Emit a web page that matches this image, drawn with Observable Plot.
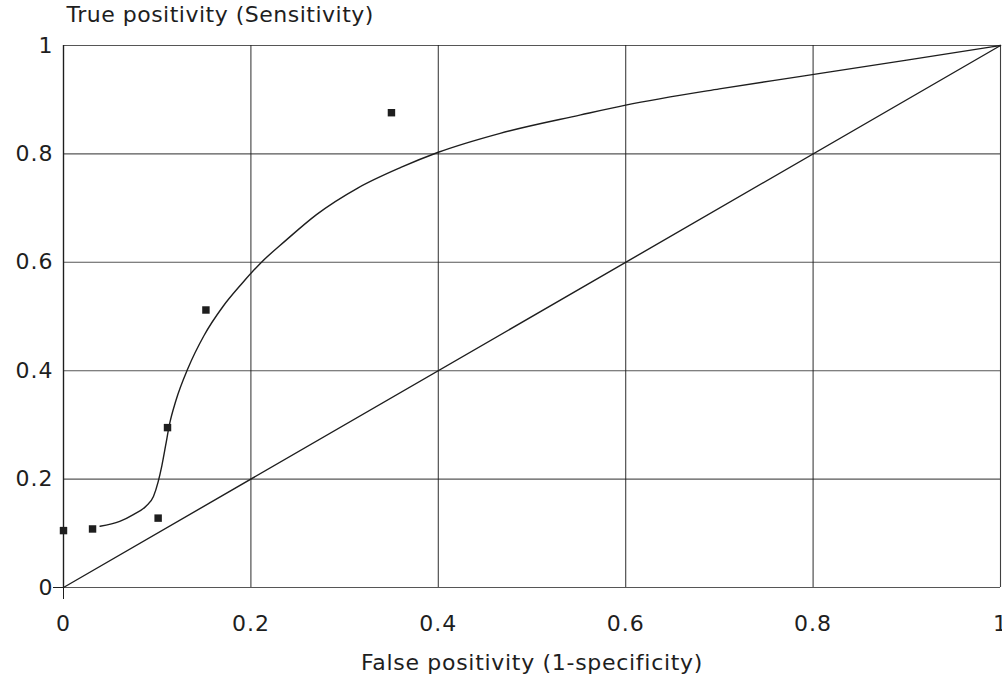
<!DOCTYPE html>
<html>
<head>
<meta charset="utf-8">
<script src="https://cdn.jsdelivr.net/npm/d3@7"></script>
<script src="https://cdn.jsdelivr.net/npm/@observablehq/plot@0.6"></script>
<style>
  html, body { margin: 0; padding: 0; background: #fff; }
  #chart { width: 1002px; height: 685px; overflow: hidden; }
</style>
</head>
<body>
<div id="chart"></div>
<script>
// Observed data points (false positivity, true positivity)
const pointFP = [0, 0.031, 0.101, 0.111, 0.152, 0.350];
const pointTP = [0.105, 0.108, 0.128, 0.295, 0.512, 0.876];

// Fitted ROC curve
const curveFP = [0.039, 0.060, 0.075, 0.088, 0.096, 0.101, 0.105, 0.109, 0.113, 0.120, 0.133, 0.150, 0.170, 0.190, 0.210, 0.237, 0.270, 0.314, 0.360, 0.400, 0.466, 0.552, 0.600, 0.700, 0.787, 0.900, 1.000];
const curveTP = [0.113, 0.122, 0.135, 0.150, 0.168, 0.195, 0.225, 0.262, 0.300, 0.345, 0.405, 0.465, 0.518, 0.560, 0.598, 0.640, 0.688, 0.737, 0.775, 0.803, 0.838, 0.872, 0.890, 0.920, 0.943, 0.973, 1.000];

// Chance diagonal
const diagFP = [0, 1];
const diagTP = [0, 1];

const tickValues = [0, 0.2, 0.4, 0.6, 0.8, 1];
const tickLabels = ["0", "0.2", "0.4", "0.6", "0.8", "1"];
const yTitle = "True positivity (Sensitivity)";
const xTitle = "False positivity (1-specificity)";

const points = pointFP.map((x, i) => ({x, y: pointTP[i]}));
const curve = curveFP.map((x, i) => ({x, y: curveTP[i]}));
const diag = diagFP.map((x, i) => ({x, y: diagTP[i]}));
const fmt = d => tickLabels[tickValues.indexOf(d)];

const ink = "#1e1e1e";
const font = "'DejaVu Sans', Verdana, sans-serif";

const chart = Plot.plot({
  width: 1002,
  height: 685,
  marginLeft: 63,
  marginRight: 2,
  marginTop: 45,
  marginBottom: 98,
  style: {fontFamily: font, fontSize: "22px", color: ink, background: "#fff"},
  x: {domain: [0, 1]},
  y: {domain: [0, 1]},
  marks: [
    Plot.gridX(tickValues, {stroke: ink, strokeOpacity: 0.85, strokeWidth: 1.1}),
    Plot.gridY(tickValues, {stroke: ink, strokeOpacity: 0.75, strokeWidth: 1.1}),
    Plot.axisY({ticks: [0], tickSize: 10, text: null, stroke: ink, label: null}),
    Plot.axisX({ticks: [0], tickSize: 12, text: null, stroke: ink, label: null}),
    Plot.axisY({ticks: tickValues, tickSize: 0, tickPadding: 10, tickFormat: fmt, fontSize: 22, fill: ink, label: null, className: "ticklab"}),
    Plot.axisX({ticks: tickValues, tickSize: 0, tickPadding: 28, tickFormat: fmt, fontSize: 22, fill: ink, label: null, className: "ticklab"}),
    Plot.ruleX([0], {stroke: ink, strokeWidth: 1.3}),
    Plot.line(diag, {x: "x", y: "y", stroke: ink, strokeWidth: 1.4}),
    Plot.line(curve, {x: "x", y: "y", curve: "monotone-x", stroke: ink, strokeWidth: 1.4}),
    Plot.dot(points, {x: "x", y: "y", symbol: "square", r: 4.2, fill: ink, stroke: "none"}),
    Plot.text([yTitle], {frameAnchor: "top-left", dx: 3, dy: -24, textAnchor: "start", lineAnchor: "bottom", fontSize: 22, fill: ink, className: "ytitle"}),
    Plot.text([xTitle], {frameAnchor: "bottom", dy: 82, lineAnchor: "bottom", fontSize: 22, fill: ink, className: "xtitle"})
  ]
});
d3.select(chart).selectAll(".ticklab text").attr("letter-spacing", "1px");
d3.select(chart).selectAll(".xtitle text").attr("letter-spacing", "0.7px");
d3.select(chart).selectAll(".ytitle text").attr("letter-spacing", "0.5px");
document.getElementById("chart").appendChild(chart);
</script>
</body>
</html>
